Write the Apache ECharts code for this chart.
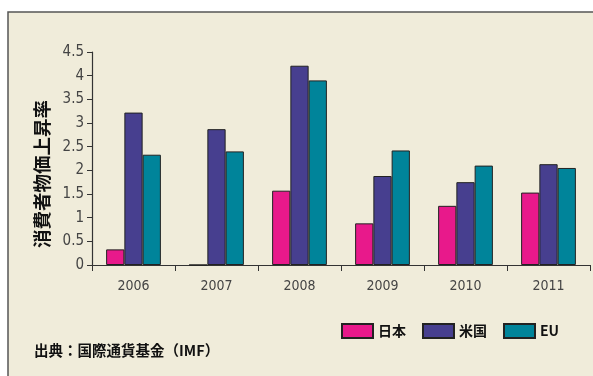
<!DOCTYPE html>
<html><head><meta charset="utf-8">
<script src="https://cdn.jsdelivr.net/npm/echarts@6/dist/echarts.min.js"></script>
<style>html,body{margin:0;padding:0;background:#fff}#c{width:593px;height:376px}</style>
</head><body><div id="c"></div>
<script>
const categories = ['2006','2007','2008','2009','2010','2011'];
const seriesNames = ['日本','米国','EU'];
const japan = [0.33, 0.0, 1.57, 0.88, 1.25, 1.53];
const usa = [3.22, 2.87, 4.21, 1.88, 1.75, 2.13];
const eu = [2.33, 2.40, 3.90, 2.42, 2.10, 2.05];
const colors = ['#e8198b', '#473f8f', '#00849a'];

const chart = echarts.init(document.getElementById('c'), null, {renderer:'canvas'});
const cjk = '"Noto Sans CJK JP", sans-serif';
const numFont = '"DejaVu Sans Condensed", "Liberation Sans Narrow", sans-serif';
function bar(name, data, i){
  return {name, type:'bar', data, barGap:'0%', barCategoryGap:'34%',
    itemStyle:{color:colors[i], borderColor:'#222', borderWidth:1}, animation:false};
}
chart.setOption({
  animation:false,
  backgroundColor:'#ffffff',
  graphic:[
    {type:'rect', z:-10, shape:{x:8, y:12, width:620, height:420},
     style:{fill:'#f0ecda', stroke:'#555', lineWidth:1.5}},
    {type:'text', left:34, top:343, style:{text:'出典：国際通貨基金（IMF）', font:'bold 14.5px "Noto Sans CJK JP"', fill:'#111'}},
    {type:'text', x:42, y:174, rotation:Math.PI/2, style:{text:'消費者物価上昇率', font:'bold 18.5px "Noto Sans CJK JP"', fill:'#111', align:'center', verticalAlign:'middle'}}
  ],
  grid:{left:92, right:3, top:52, bottom:111},
  legend:{left:336, top:318, itemWidth:31, itemHeight:14, itemGap:16,
    icon:'rect',
    data:seriesNames,
    textStyle:{fontFamily:cjk, fontWeight:'bold', fontSize:14, color:'#111'}},
  xAxis:{type:'category', data:categories,
    axisLine:{lineStyle:{color:'#333', width:1.2}},
    axisTick:{show:true, length:6, lineStyle:{color:'#333'}},
    axisLabel:{margin:14, color:'#444', fontFamily:numFont, fontSize:14}},
  yAxis:{type:'value', min:0, max:4.5, interval:0.5,
    splitLine:{show:false},
    axisLine:{show:true, lineStyle:{color:'#333', width:1.2}},
    axisTick:{show:true, length:5, lineStyle:{color:'#333'}},
    axisLabel:{margin:8, color:'#444', fontFamily:numFont, fontSize:15}},
  series:[bar(seriesNames[0], japan, 0), bar(seriesNames[1], usa, 1), bar(seriesNames[2], eu, 2)]
});
</script></body></html>
